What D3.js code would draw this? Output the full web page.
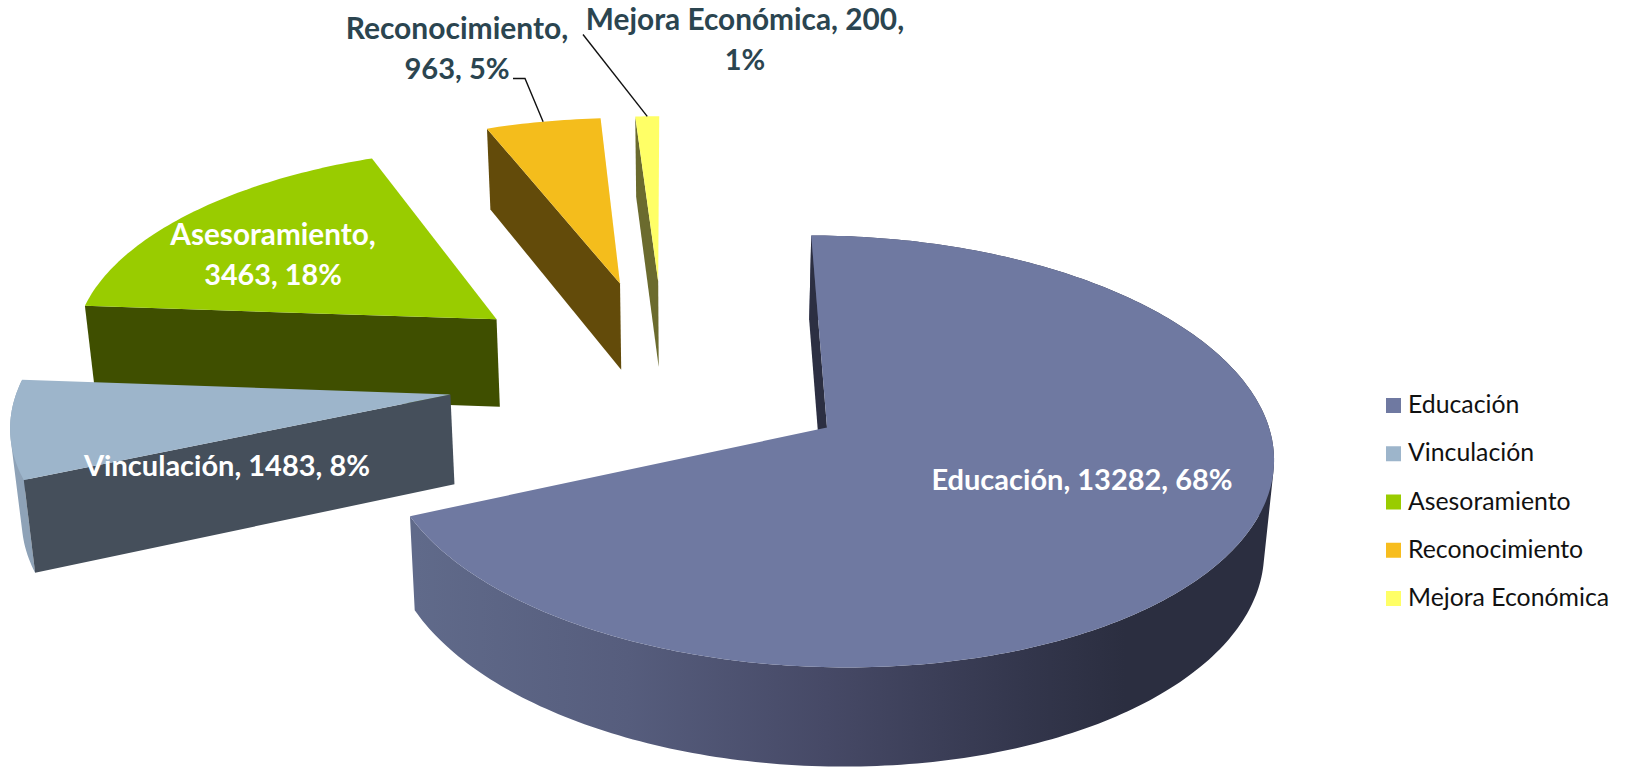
<!DOCTYPE html>
<html><head><meta charset="utf-8">
<script src="https://cdn.jsdelivr.net/npm/d3@7"></script>
<style>html,body{margin:0;padding:0;background:#fff;overflow:hidden}svg{display:block}</style>
</head><body><svg id="c" width="1627" height="767"></svg>
<script>
const categories = ["Educación","Vinculación","Asesoramiento","Reconocimiento","Mejora Económica"];
const values = [13282,1483,3463,963,200];
const percents = [68,8,18,5,1];
const topColors = ["#6f79a1","#9db5cb","#99cc00","#f4bd1c","#ffff66"];
const sideColors = ["#2c2f42","#454f5b","#3f4f00","#634b0a","#6b6b2e"];
const outerWallColors = ["url(#eduWall)","#8ea2b7",null,null,null];
const explode = [0.44,0.5,0.5,0.5,0.5];
const legendColors = ["#6f79a1","#9db5cb","#99cc00","#f7bd1e","#ffff66"];
const labelLines = [["Educación, 13282, 68%"],["Vinculación, 1483, 8%"],["Asesoramiento,","3463, 18%"],["Reconocimiento,","963, 5%"],["Mejora Económica, 200,","1%"]];
const labelX = [1082,227,273,457,745];
const labelY = [490,476,245,39,30];
const labelSize = [29,29,29.7,30,29.8];
const labelFill = ["#fff","#fff","#fff","#2b4550","#2b4550"];

// perspective camera of the pie plane
const cam = {ax:827,ay:427.5,R:442,h:-17.5,Rk:213.3,g:0.111,vx:690,dx:0.017,d0:86,y0:281,dy:0.034};
const svg = d3.select("#c");
const arcs = d3.pie().sort(null).startAngle(0).endAngle(2*Math.PI).value(d=>d)(values);
const midOf = a => (a.startAngle+a.endAngle)/2;
const eduOff = [explode[0]*Math.sin(midOf(arcs[0])),explode[0]*Math.cos(midOf(arcs[0]))];
function project(u,v,z){
  const pu=u-eduOff[0], pv=v-eduOff[1], s=1/(1+cam.g*pv);
  let x=cam.ax+(cam.R*pu+cam.h*pv)*s, y=cam.ay-cam.Rk*pv*s;
  if(z){ x+=(cam.vx-x)*cam.dx; y+=cam.d0+(y-cam.y0)*cam.dy; }
  return [x,y];
}
const line = d3.line().curve(d3.curveLinear);

const defs = svg.append("defs");
const grad = defs.append("linearGradient").attr("id","eduWall").attr("gradientUnits","userSpaceOnUse")
  .attr("x1",415).attr("x2",1125).attr("y1",0).attr("y2",0);
[[0,"#606a8a"],[0.3,"#565d7d"],[0.58,"#464966"],[0.86,"#33364c"],[1,"#2b2e40"]].forEach(s=>grad.append("stop").attr("offset",s[0]).attr("stop-color",s[1]));

function slicePts(a,i){
  const m=midOf(a), ou=explode[i]*Math.sin(m), ov=explode[i]*Math.cos(m);
  const rim=(t,z)=>project(ou+Math.sin(t),ov+Math.cos(t),z);
  const apex=z=>project(ou,ov,z);
  const n=Math.max(8,Math.ceil((a.endAngle-a.startAngle)*60));
  const ts=d3.range(n+1).map(k=>a.startAngle+(a.endAngle-a.startAngle)*k/n);
  return {rim,apex,ts};
}
const g = svg.append("g");
// far slices first
d3.range(arcs.length-1,-1,-1).forEach(i=>{
  const a=arcs[i], {rim,apex,ts}=slicePts(a,i);
  const sl=g.append("g");
  if(outerWallColors[i]){
    // sweep the rim down: the whole wall is one path, its silhouette stays tangent
    const sweep=d3.pairs(ts).map(([t0,t1])=>{
      const q=[rim(t0,0),rim(t1,0),rim(t1,1),rim(t0,1)];
      const area=d3.polygonArea(q);
      return line(area<0?q:q.reverse())+"Z";
    }).join("");
    sl.append("path").attr("d",sweep).attr("fill",outerWallColors[i]);
  }
  sl.append("path").attr("d",line([rim(a.startAngle,0),apex(0),apex(1),rim(a.startAngle,1)])+"Z").attr("fill",sideColors[i]);
  sl.append("path").attr("d",line([apex(0)].concat(ts.map(t=>rim(t,0))))+"Z").attr("fill",topColors[i]);
});

// leader lines
function rimMid(i){ const s=slicePts(arcs[i],i); return s.rim(midOf(arcs[i]),0); }
const leaders=[[3,[[513,78.5],[525,78.5]]],[4,[[583,34.5]]]];
leaders.forEach(([i,pts])=>{
  g.append("path").attr("d",line(pts.concat([rimMid(i)]))).attr("fill","none").attr("stroke","#111").attr("stroke-width",1.4);
});

// data labels
const labelFont="Lato, Carlito, Calibri, sans-serif";
labelLines.forEach((ls,i)=>{
  ls.forEach((t,j)=>{
    svg.append("text").text(t).attr("x",labelX[i]).attr("y",labelY[i]+j*39.5)
      .attr("text-anchor","middle").attr("font-family",labelFont).attr("font-weight",700)
      .attr("font-size",labelSize[i]*(j?0.97:1)).attr("fill",labelFill[i]);
  });
});

// legend
const ly=d3.scalePoint().domain(categories).range([398,591]);
const lg=svg.selectAll("g.leg").data(categories).join("g").attr("class","leg").attr("transform",d=>`translate(1386,${ly(d)})`);
lg.append("rect").attr("width",15).attr("height",15).attr("fill",(d,i)=>legendColors[i]);
lg.append("text").text(d=>d).attr("x",22).attr("y",15).attr("font-family",labelFont).attr("font-size",24.8).attr("fill","#111");
</script></body></html>
